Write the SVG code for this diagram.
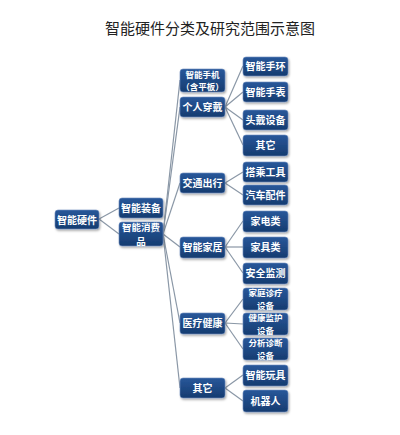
<svg xmlns="http://www.w3.org/2000/svg" width="400" height="435" viewBox="0 0 400 435">
<defs>
<linearGradient id="g" x1="0" y1="0" x2="0" y2="1">
<stop offset="0" stop-color="#28579a"/>
<stop offset="1" stop-color="#163c70"/>
</linearGradient>
<filter id="sh" x="-20%" y="-20%" width="150%" height="160%">
<feDropShadow dx="1" dy="1.5" stdDeviation="1" flood-color="#000" flood-opacity="0.35"/>
</filter>
</defs>
<style>
.n rect{fill:url(#g);stroke:#6f8fbf;stroke-width:0.6;filter:url(#sh)}
.n text{fill:#fff;font-family:"Noto Sans CJK SC","Noto Sans",sans-serif;font-size:10px;font-weight:bold;text-anchor:middle}
.n text.s{font-size:8.5px}
.n text.m{font-size:9.5px}
.c line{stroke:#8a97a6;stroke-width:1.2}
.t{fill:#222;font-family:"Noto Sans CJK SC",sans-serif;font-size:15px;text-anchor:middle}
</style>
<rect width="400" height="435" fill="#fff"/>
<text class="t" x="210" y="34">智能硬件分类及研究范围示意图</text>
<g class="c">
<line x1="99" y1="219" x2="119" y2="208"/>
<line x1="99" y1="219" x2="119" y2="234"/>
<line x1="163" y1="234" x2="180" y2="80"/>
<line x1="163" y1="234" x2="180" y2="107"/>
<line x1="163" y1="234" x2="180" y2="183"/>
<line x1="163" y1="234" x2="180" y2="247"/>
<line x1="163" y1="234" x2="180" y2="323"/>
<line x1="163" y1="234" x2="180" y2="388"/>
<line x1="225" y1="107" x2="243" y2="66"/>
<line x1="225" y1="107" x2="243" y2="92"/>
<line x1="225" y1="107" x2="243" y2="120"/>
<line x1="225" y1="107" x2="243" y2="145"/>
<line x1="225" y1="183" x2="243" y2="172"/>
<line x1="225" y1="183" x2="243" y2="195"/>
<line x1="225" y1="247" x2="243" y2="221"/>
<line x1="225" y1="247" x2="243" y2="247"/>
<line x1="225" y1="247" x2="243" y2="273"/>
<line x1="225" y1="323" x2="243" y2="299"/>
<line x1="225" y1="323" x2="243" y2="324"/>
<line x1="225" y1="323" x2="243" y2="349"/>
<line x1="225" y1="388" x2="243" y2="375"/>
<line x1="225" y1="388" x2="243" y2="401"/>
</g>
<g id="n-root" class="n"><rect x="55" y="210" width="44" height="19" rx="3"/><text x="77" y="223.5">智能硬件</text></g>
<g id="n-equip" class="n"><rect x="119" y="198" width="44" height="20" rx="3"/><text x="141" y="211.5">智能装备</text></g>
<g id="n-consumer" class="n"><rect x="119" y="222" width="44" height="24" rx="3"/><text class="m" x="141" y="230.5">智能消费</text><text class="m" x="141" y="244.5">品</text></g>
<g id="n-phone" class="n"><rect x="180" y="69" width="45" height="23" rx="3"/><text class="s" x="202.5" y="77.5">智能手机</text><text class="s" x="202.5" y="90">（含平板）</text></g>
<g id="n-wear" class="n"><rect x="180" y="97" width="45" height="20" rx="3"/><text x="202.5" y="110.5">个人穿戴</text></g>
<g id="n-traffic" class="n"><rect x="180" y="173" width="45" height="20" rx="3"/><text x="202.5" y="186.5">交通出行</text></g>
<g id="n-home" class="n"><rect x="180" y="237" width="45" height="21" rx="3"/><text x="202.5" y="251">智能家居</text></g>
<g id="n-medical" class="n"><rect x="180" y="313" width="45" height="21" rx="3"/><text x="202.5" y="327">医疗健康</text></g>
<g id="n-other2" class="n"><rect x="180" y="378" width="45" height="20" rx="3"/><text x="202.5" y="391.5">其它</text></g>
<g id="n-band" class="n"><rect x="243" y="57" width="45" height="19" rx="3"/><text x="265.5" y="70">智能手环</text></g>
<g id="n-watch" class="n"><rect x="243" y="82" width="45" height="20" rx="3"/><text x="265.5" y="95.5">智能手表</text></g>
<g id="n-head" class="n"><rect x="243" y="110" width="45" height="20" rx="3"/><text x="265.5" y="123.5">头戴设备</text></g>
<g id="n-other3" class="n"><rect x="243" y="135" width="45" height="21" rx="3"/><text x="265.5" y="149">其它</text></g>
<g id="n-ride" class="n"><rect x="243" y="162" width="45" height="20" rx="3"/><text x="265.5" y="175.5">搭乘工具</text></g>
<g id="n-car" class="n"><rect x="243" y="185" width="45" height="20" rx="3"/><text x="265.5" y="198.5">汽车配件</text></g>
<g id="n-appl" class="n"><rect x="243" y="211" width="45" height="21" rx="3"/><text x="265.5" y="225">家电类</text></g>
<g id="n-furn" class="n"><rect x="243" y="237" width="45" height="21" rx="3"/><text x="265.5" y="251">家具类</text></g>
<g id="n-sec" class="n"><rect x="243" y="263" width="45" height="21" rx="3"/><text x="265.5" y="277">安全监测</text></g>
<g id="n-diag" class="n"><rect x="243" y="288" width="45" height="22" rx="3"/><text class="s" x="265.5" y="296">家庭诊疗</text><text class="s" x="265.5" y="308.5">设备</text></g>
<g id="n-mon" class="n"><rect x="243" y="313" width="45" height="22" rx="3"/><text class="s" x="265.5" y="321">健康监护</text><text class="s" x="265.5" y="333.5">设备</text></g>
<g id="n-ana" class="n"><rect x="243" y="338" width="45" height="22" rx="3"/><text class="s" x="265.5" y="346">分析诊断</text><text class="s" x="265.5" y="358.5">设备</text></g>
<g id="n-toy" class="n"><rect x="243" y="365" width="45" height="21" rx="3"/><text x="265.5" y="379">智能玩具</text></g>
<g id="n-robot" class="n"><rect x="243" y="390" width="45" height="22" rx="3"/><text x="265.5" y="405">机器人</text></g>
</svg>
